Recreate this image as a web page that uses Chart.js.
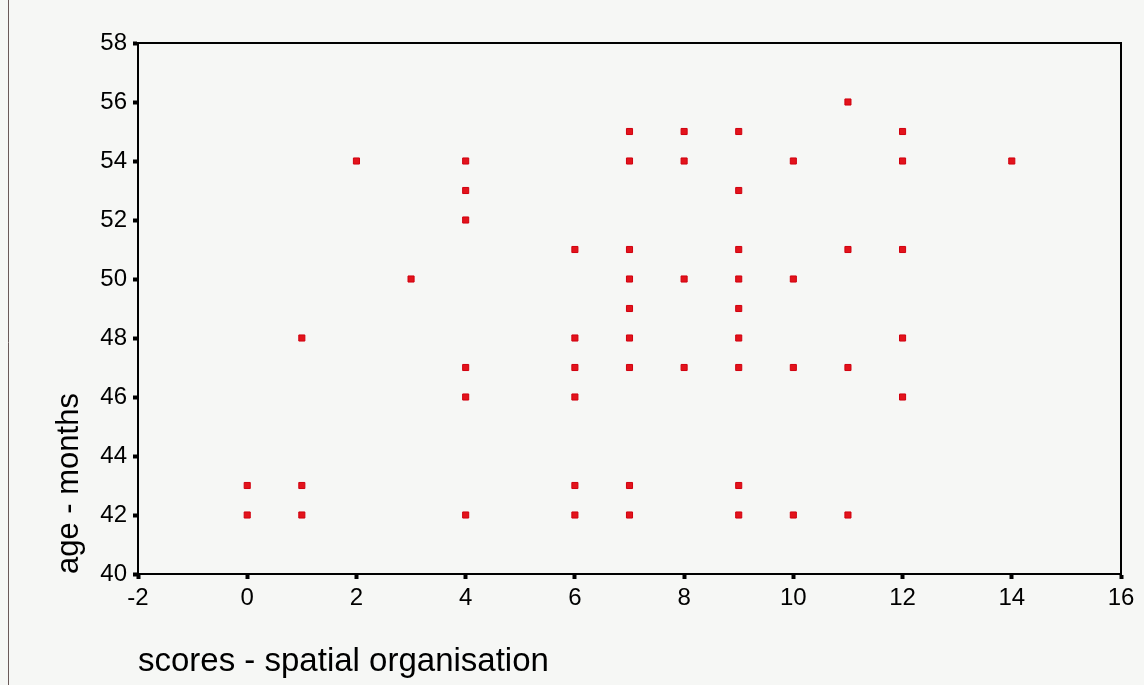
<!DOCTYPE html>
<html>
<head>
<meta charset="utf-8">
<script src="https://cdn.jsdelivr.net/npm/chart.js@4"></script>
<style>
    html, body { margin: 0; padding: 0; background: #f6f7f5; }
    #wrap { width: 1144px; height: 685px; position: relative; }
</style>
</head>
<body>
<div id="wrap"><canvas id="scatter"></canvas></div>
<script>
// Scores (x) and ages (y), one entry per child
const scores = [
    0, 0,
    1, 1, 1,
    2,
    3,
    4, 4, 4, 4, 4, 4,
    6, 6, 6, 6, 6, 6,
    7, 7, 7, 7, 7, 7, 7, 7, 7,
    8, 8, 8, 8,
    9, 9, 9, 9, 9, 9, 9, 9, 9,
    10, 10, 10, 10,
    11, 11, 11, 11,
    12, 12, 12, 12, 12,
    14
];
const ages = [
    43, 42,
    48, 43, 42,
    54,
    50,
    54, 53, 52, 47, 46, 42,
    51, 48, 47, 46, 43, 42,
    55, 54, 51, 50, 49, 48, 47, 43, 42,
    55, 54, 50, 47,
    55, 53, 51, 50, 49, 48, 47, 43, 42,
    54, 50, 47, 42,
    56, 51, 47, 42,
    55, 54, 51, 48, 46,
    54
];

const xRange = [-2, 16];
const yRange = [40, 58];
const xTitle = 'scores - spatial organisation';
const yTitle = 'age - months';

const FONT = "'Liberation Sans', Arial, sans-serif";

// Closed frame round the plot area plus the page edge seen on the scan
const frame = {
    id: 'frame',
    afterDraw(chart) {
        const { ctx, chartArea: a } = chart;
        ctx.save();
        ctx.strokeStyle = '#000';
        ctx.lineWidth = 2;
        ctx.strokeRect(a.left, a.top, a.right - a.left, a.bottom - a.top);
        ctx.strokeStyle = '#6a5a5a';
        ctx.lineWidth = 1;
        ctx.beginPath();
        ctx.moveTo(8.5, 0);
        ctx.lineTo(8.5, chart.height);
        ctx.stroke();
        ctx.restore();
    }
};

new Chart(document.getElementById('scatter'), {
    type: 'scatter',
    data: {
        datasets: [{
            data: scores.map((s, i) => ({ x: s, y: ages[i] })),
            pointStyle: 'rect',
            pointRadius: 4.3,
            backgroundColor: '#e3131b',
            borderColor: '#d0000f',
            borderWidth: 1
        }]
    },
    plugins: [frame],
    options: {
        responsive: true,
        maintainAspectRatio: false,
        animation: false,
        layout: { padding: { top: 43, right: 23, left: 0, bottom: 0 } },
        scales: {
            x: {
                min: xRange[0],
                max: xRange[1],
                border: { display: true, color: '#000', width: 2 },
                grid: { drawOnChartArea: false, tickLength: 5, tickWidth: 4, tickColor: '#000' },
                ticks: { stepSize: 2, padding: 5, color: '#000', font: { family: FONT, size: 24 } },
                title: {
                    display: true, text: xTitle, align: 'start', color: '#000',
                    font: { family: FONT, size: 33 }, padding: { top: 0, bottom: 3 }
                },
                afterFit(scale) { scale.height = 111; }
            },
            y: {
                min: yRange[0],
                max: yRange[1],
                border: { display: true, color: '#000', width: 2 },
                grid: { drawOnChartArea: false, tickLength: 5, tickWidth: 4, tickColor: '#000' },
                ticks: { stepSize: 2, padding: 6, color: '#000', font: { family: FONT, size: 24 } },
                title: {
                    display: true, text: yTitle, align: 'start', color: '#000',
                    font: { family: FONT, size: 31 }, padding: { top: 51, bottom: 0 }
                },
                afterFit(scale) { scale.width = 138; }
            }
        },
        plugins: {
            legend: { display: false },
            tooltip: { enabled: false }
        }
    }
});
</script>
</body>
</html>
